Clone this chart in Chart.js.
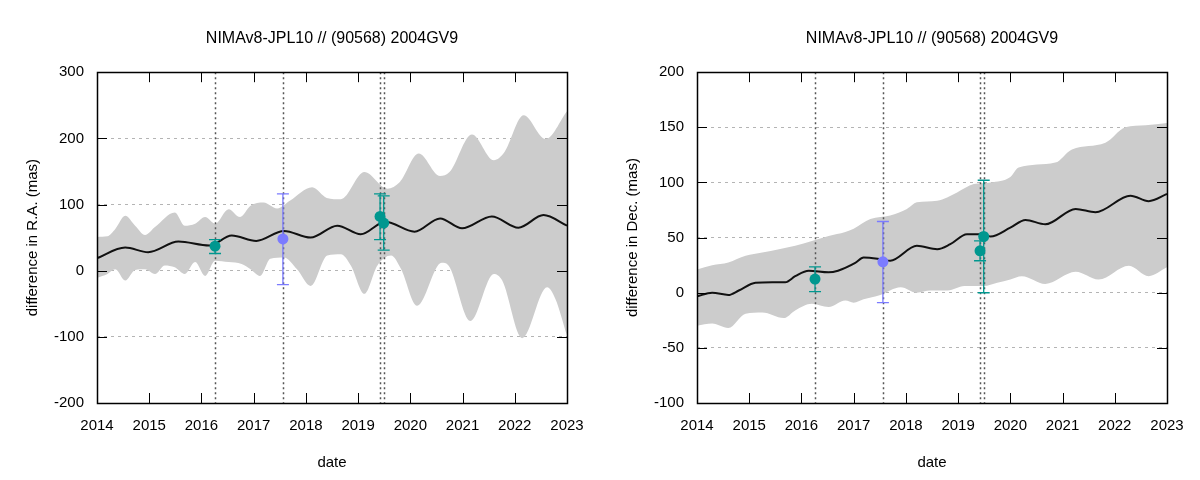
<!DOCTYPE html>
<html>
<head>
<meta charset="utf-8">
<script src="https://cdn.jsdelivr.net/npm/chart.js@4.4.1/dist/chart.umd.min.js"></script>
<style>
  body { margin: 0; background: #fff; }
  .panel { position: absolute; top: 0; width: 600px; height: 480px; }
</style>
</head>
<body>
<div class="panel" style="left:0"><canvas id="raChart" width="600" height="480"></canvas></div>
<div class="panel" style="left:600px"><canvas id="decChart" width="600" height="480"></canvas></div>
<script>
// observation epochs (decimal year) and which catalogue they come from
const obsDates = [2016.26, 2017.56, 2019.42, 2019.49];
const obsGroup = ['A', 'B', 'A', 'A'];

// R.A. panel
const raObs = [37, 48, 82, 72];
const raErrLow = [26, -21, 47, 31];
const raErrHigh = [47, 116, 116, 113];

const raFitYears = [2014.0, 2014.54, 2014.98, 2015.56, 2016.15, 2016.58, 2017.05, 2017.58, 2018.09, 2018.6, 2019.05, 2019.52, 2020.08, 2020.57, 2020.99, 2021.56, 2022.07, 2022.55, 2023.0];
const raFitValues = [19, 35, 28, 44, 38, 53, 45, 60, 50, 68, 55, 74, 59, 79, 64, 82, 65, 84, 68];

const raUpperYears = [2014.0, 2014.2, 2014.35, 2014.54, 2014.73, 2014.92, 2015.11, 2015.49, 2015.68, 2015.88, 2016.07, 2016.26, 2016.52, 2016.74, 2016.94, 2017.19, 2017.45, 2017.7, 2018.12, 2018.4, 2018.67, 2019.12, 2019.56, 2019.8, 2020.16, 2020.57, 2020.75, 2021.18, 2021.6, 2021.8, 2022.17, 2022.59, 2023.0];
const raUpperValues = [51, 52, 63, 83, 68, 54, 66, 88, 68, 71, 81, 71, 93, 81, 98, 103, 94, 106, 126, 110, 108, 149, 124, 134, 177, 143, 149, 206, 167, 179, 235, 199, 241];

const raLowerYears = [2014.0, 2014.2, 2014.35, 2014.54, 2014.73, 2014.92, 2015.11, 2015.3, 2015.49, 2015.68, 2015.88, 2016.07, 2016.26, 2016.52, 2016.77, 2016.94, 2017.12, 2017.32, 2017.58, 2017.83, 2018.09, 2018.41, 2018.67, 2018.86, 2019.12, 2019.37, 2019.63, 2019.82, 2020.13, 2020.6, 2020.73, 2021.15, 2021.6, 2021.76, 2022.14, 2022.62, 2022.78, 2023.0];
const raLowerValues = [-11, -5, 2, -15, 1, 2, -5, 8, 5, -5, 13, -8, 15, 13, 10, 2, -8, 18, 20, 2, -23, 23, 25, 8, -35, 8, 23, 3, -53, 12, 8, -76, -5, -15, -102, -25, -43, -98];

// Dec. panel
const decObs = [12.4, 28, 38, 51];
const decErrLow = [1, -9, 29, 0];
const decErrHigh = [23.5, 64.6, 47, 102];

const decFitYears = [2014.0, 2014.29, 2014.6, 2014.8, 2015.12, 2015.44, 2015.69, 2015.88, 2016.14, 2016.52, 2016.7, 2017.03, 2017.19, 2017.51, 2017.7, 2018.21, 2018.6, 2018.85, 2019.17, 2019.43, 2019.62, 2020.0, 2020.29, 2020.67, 2021.25, 2021.63, 2022.3, 2022.65, 2023.0];
const decFitValues = [-3.3, 0, -2, 2, 9, 9.5, 9.5, 15, 20, 18.5, 20, 27, 32, 30.5, 29, 42.5, 39.5, 44, 53, 53, 51, 59, 66, 62, 76, 73, 88, 83, 89.5];

const decUpperYears = [2014.0, 2014.29, 2014.6, 2014.93, 2015.25, 2015.57, 2015.88, 2016.2, 2016.52, 2016.84, 2017.0, 2017.32, 2017.7, 2018.02, 2018.21, 2018.6, 2018.98, 2019.3, 2019.62, 2020.0, 2020.16, 2020.86, 2021.18, 2021.82, 2022.2, 2022.59, 2023.0];
const decUpperValues = [21, 25, 27.5, 33.5, 36.5, 39.5, 42.5, 47, 51.5, 55, 58, 66.8, 70, 76, 82, 83.5, 91, 98.5, 100, 105, 113.5, 118, 130, 136, 150, 152, 154];

const decLowerYears = [2014.0, 2014.29, 2014.6, 2014.93, 2015.25, 2015.66, 2015.88, 2016.2, 2016.52, 2016.84, 2017.0, 2017.19, 2017.51, 2017.9, 2018.21, 2018.47, 2018.8, 2019.12, 2019.49, 2019.75, 2020.0, 2020.22, 2020.67, 2021.25, 2021.69, 2022.27, 2022.65, 2023.0];
const decLowerValues = [-30, -28, -32, -19, -18, -23, -16, -10, -13, -7, -9, -6, -2, 5, 0, 2, 2, 6, 6, 9, 12, 15, 8, 19, 12, 24.5, 15, 23];

const yearTicks = [2014, 2015, 2016, 2017, 2018, 2019, 2020, 2021, 2022, 2023];

const TEAL = '#00978f';
const BLUE = '#7b7bff';
const FONT = "'Liberation Sans', Arial, sans-serif";

function pairs(xs, ys) {
    return xs.map((x, i) => ({x: x, y: ys[i]}));
}

// gnuplot look: box, inward ticks, observation epochs, error bars
const gnuplotDecor = {
    id: 'gnuplotDecor',
    afterDatasetDraw(chart, args, opts) {
        const ctx = chart.ctx;
        const xs = chart.scales.x, ys = chart.scales.y;
        const area = chart.chartArea;
        if (args.index === 0) {
            // dotted verticals at each observation date
            ctx.save();
            ctx.strokeStyle = '#555';
            ctx.lineWidth = 1.5;
            ctx.setLineDash([2, 3]);
            obsDates.forEach(d => {
                const px = Math.round(xs.getPixelForValue(d)) + 0.5;
                ctx.beginPath();
                ctx.moveTo(px, area.top);
                ctx.lineTo(px, area.bottom);
                ctx.stroke();
            });
            ctx.restore();
        }
        if (args.index === 2) {
            ctx.save();
            ctx.lineWidth = 1.3;
            obsDates.forEach((d, i) => {
                const px = xs.getPixelForValue(d);
                const lo = ys.getPixelForValue(opts.errLow[i]);
                const hi = ys.getPixelForValue(opts.errHigh[i]);
                ctx.strokeStyle = obsGroup[i] === 'A' ? TEAL : BLUE;
                ctx.beginPath();
                ctx.moveTo(px, lo); ctx.lineTo(px, hi);
                ctx.moveTo(px - 6, lo); ctx.lineTo(px + 6, lo);
                ctx.moveTo(px - 6, hi); ctx.lineTo(px + 6, hi);
                ctx.stroke();
            });
            ctx.restore();
        }
    },
    afterDraw(chart) {
        const ctx = chart.ctx;
        const xs = chart.scales.x, ys = chart.scales.y;
        const a = chart.chartArea;
        const len = 10;
        ctx.save();
        ctx.strokeStyle = '#000';
        ctx.lineWidth = 1;
        ctx.beginPath();
        xs.ticks.forEach(t => {
            const px = Math.round(xs.getPixelForValue(t.value)) + 0.5;
            ctx.moveTo(px, a.bottom); ctx.lineTo(px, a.bottom - len);
            ctx.moveTo(px, a.top); ctx.lineTo(px, a.top + len);
        });
        ys.ticks.forEach(t => {
            const py = Math.round(ys.getPixelForValue(t.value)) + 0.5;
            ctx.moveTo(a.left, py); ctx.lineTo(a.left + len, py);
            ctx.moveTo(a.right, py); ctx.lineTo(a.right - len, py);
        });
        ctx.stroke();
        ctx.lineWidth = 1.5;
        ctx.strokeRect(Math.round(a.left) + 0.5, Math.round(a.top) + 0.5,
            Math.round(a.right - a.left), Math.round(a.bottom - a.top));
        ctx.restore();
    }
};

function makeChart(id, p) {
    const groupA = [], groupB = [];
    obsDates.forEach((d, i) => {
        (obsGroup[i] === 'A' ? groupA : groupB).push({x: d, y: p.obs[i]});
    });
    return new Chart(document.getElementById(id), {
        type: 'scatter',
        data: {
            datasets: [
                { data: pairs(p.upperX, p.upperY), showLine: true, borderWidth: 0, pointRadius: 0,
                  backgroundColor: '#cccccc', fill: '+1', cubicInterpolationMode: 'monotone', order: 5 },
                { data: pairs(p.lowerX, p.lowerY), showLine: true, borderWidth: 0, pointRadius: 0,
                  cubicInterpolationMode: 'monotone', order: 4 },
                { data: pairs(p.fitX, p.fitY), showLine: true, borderColor: '#111', borderWidth: 2,
                  pointRadius: 0, cubicInterpolationMode: 'monotone', order: 3 },
                { data: groupA, pointRadius: 5.5, backgroundColor: TEAL, borderWidth: 0, order: 1 },
                { data: groupB, pointRadius: 5.5, backgroundColor: BLUE, borderWidth: 0, order: 1 }
            ]
        },
        options: {
            responsive: false,
            animation: false,
            devicePixelRatio: 1,
            layout: { padding: { left: 0, right: 33, top: 0, bottom: 0 } },
            plugins: {
                legend: { display: false },
                tooltip: { enabled: false },
                title: {
                    display: true,
                    fullSize: false,
                    text: 'NIMAv8-JPL10 // (90568) 2004GV9',
                    color: '#000',
                    font: { family: FONT, size: 16, weight: 'normal' },
                    padding: { top: 29, bottom: 24 }
                },
                gnuplotDecor: { errLow: p.errLow, errHigh: p.errHigh }
            },
            scales: {
                x: {
                    type: 'linear', min: 2014, max: 2023,
                    afterBuildTicks: s => { s.ticks = yearTicks.map(v => ({value: v})); },
                    afterFit: s => { s.height = 77; },
                    grid: { display: false, drawTicks: false },
                    border: { display: false },
                    ticks: { color: '#000', padding: 14, maxRotation: 0,
                             font: { family: FONT, size: 15 }, callback: v => String(v) },
                    title: { display: true, text: 'date', color: '#000',
                             font: { family: FONT, size: 15 }, padding: { top: 0, bottom: 8 } }
                },
                y: {
                    min: p.yMin, max: p.yMax,
                    afterBuildTicks: s => { s.ticks = p.yTicks.map(v => ({value: v})); },
                    afterFit: s => { s.width = 97; },
                    grid: { color: '#b4b4b4', lineWidth: 1, drawTicks: false },
                    border: { display: false, dash: [3, 4] },
                    ticks: { color: '#000', padding: 13, font: { family: FONT, size: 15 } },
                    title: { display: true, text: p.yTitle, color: '#000',
                             font: { family: FONT, size: 15 }, padding: { top: 24, bottom: 0 } }
                }
            }
        },
        plugins: [gnuplotDecor]
    });
}

makeChart('raChart', {
    upperX: raUpperYears, upperY: raUpperValues,
    lowerX: raLowerYears, lowerY: raLowerValues,
    fitX: raFitYears, fitY: raFitValues,
    obs: raObs, errLow: raErrLow, errHigh: raErrHigh,
    yMin: -200, yMax: 300, yTicks: [-200, -100, 0, 100, 200, 300],
    yTitle: 'difference in R.A. (mas)'
});

makeChart('decChart', {
    upperX: decUpperYears, upperY: decUpperValues,
    lowerX: decLowerYears, lowerY: decLowerValues,
    fitX: decFitYears, fitY: decFitValues,
    obs: decObs, errLow: decErrLow, errHigh: decErrHigh,
    yMin: -100, yMax: 200, yTicks: [-100, -50, 0, 50, 100, 150, 200],
    yTitle: 'difference in Dec. (mas)'
});
</script>
</body>
</html>
